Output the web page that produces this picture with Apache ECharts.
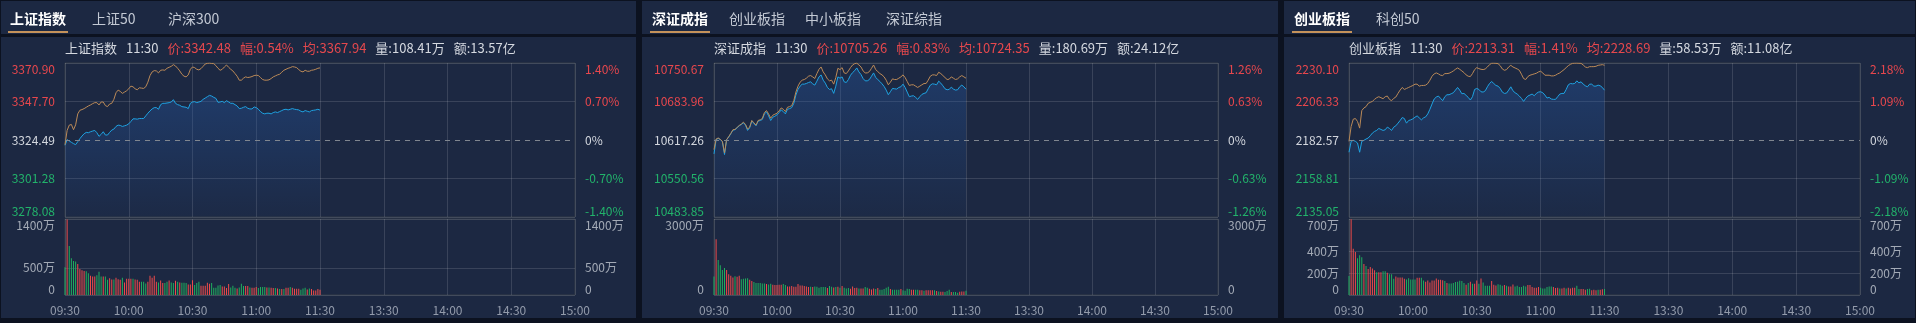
<!DOCTYPE html>
<html><head><meta charset="utf-8">
<script src="https://cdn.jsdelivr.net/npm/echarts@6/dist/echarts.min.js"></script>
<style>html,body{margin:0;padding:0;background:#0c1220;overflow:hidden}#c{width:1916px;height:323px}</style>
</head><body><div id="c"></div>
<script>
// ---------------- data ----------------
const shPriceTicks = [3278.08, 3301.28, 3324.49, 3347.70, 3370.90];
const shPctLabels = ['-1.40%', '-0.70%', '0%', '0.70%', '1.40%'];
const szPriceTicks = [10483.85, 10550.56, 10617.26, 10683.96, 10750.67];
const szPctLabels = ['-1.26%', '-0.63%', '0%', '0.63%', '1.26%'];
const cyPriceTicks = [2135.05, 2158.81, 2182.57, 2206.33, 2230.10];
const cyPctLabels = ['-2.18%', '-1.09%', '0%', '1.09%', '2.18%'];
const xTickLabels = ['09:30', '10:00', '10:30', '11:00', '11:30', '13:30', '14:00', '14:30', '15:00'];

const shPrice = [3321.30,3324.69,3323.89,3323.10,3322.30,3321.70,3323.49,3325.29,3326.88,3328.27,
3329.07,3328.87,3329.47,3329.87,3330.27,3328.87,3326.68,3327.88,3329.47,3327.48,
3327.48,3329.07,3330.47,3331.06,3332.66,3333.45,3333.25,3332.66,3333.06,3333.45,
3334.25,3335.65,3337.24,3337.24,3337.04,3337.44,3337.44,3337.44,3339.03,3340.63,
3342.02,3343.21,3344.01,3344.01,3343.02,3345.80,3346.60,3346.60,3346.80,3347.00,
3347.40,3348.79,3346.60,3345.80,3345.41,3344.61,3344.41,3344.21,3343.41,3346.60,
3347.40,3347.60,3347.00,3347.40,3347.80,3348.99,3349.79,3350.59,3351.38,3350.98,
3350.19,3349.59,3347.20,3347.40,3347.80,3347.00,3348.19,3347.40,3346.60,3346.60,
3345.80,3345.01,3343.41,3343.61,3344.21,3344.61,3343.61,3343.21,3343.21,3344.41,
3344.01,3343.02,3341.62,3340.63,3340.23,3340.63,3340.63,3340.23,3341.02,3341.42,
3341.02,3341.62,3342.22,3342.82,3343.02,3342.62,3343.02,3343.41,3343.02,3342.82,
3342.62,3341.82,3341.42,3342.22,3341.82,3341.42,3342.22,3342.42,3342.62,3343.02,
3342.48];
const shAvg = [3321.70,3330.27,3333.45,3333.85,3330.67,3333.65,3340.23,3342.42,3342.82,3343.41,
3344.21,3345.01,3345.61,3346.40,3347.00,3347.00,3345.61,3347.40,3347.40,3345.21,
3344.61,3346.20,3346.60,3348.99,3352.98,3354.57,3353.77,3352.58,3353.37,3354.17,
3355.37,3356.96,3356.56,3355.37,3354.77,3355.96,3355.76,3355.57,3356.56,3359.35,
3363.33,3365.53,3366.32,3366.12,3364.93,3366.52,3366.72,3366.52,3367.72,3368.31,
3368.91,3369.91,3369.11,3367.72,3366.12,3364.13,3362.94,3362.54,3363.73,3367.12,
3368.51,3368.11,3367.12,3366.72,3367.52,3368.91,3370.31,3370.70,3370.85,3370.60,
3370.51,3369.31,3367.72,3366.52,3367.12,3368.51,3369.71,3368.31,3367.12,3366.12,
3364.53,3362.94,3360.55,3360.55,3361.74,3362.54,3362.14,3362.34,3362.74,3363.33,
3363.53,3363.33,3362.14,3360.94,3360.55,3360.55,3360.74,3361.54,3362.54,3363.13,
3363.73,3364.13,3365.33,3366.52,3367.12,3367.72,3368.11,3368.71,3368.51,3368.11,
3366.92,3365.92,3365.53,3366.52,3365.92,3365.92,3366.52,3366.72,3367.12,3367.72,
3367.94];
const shVol = [511,1390,901,676,627,615,572,481,457,444,
438,402,353,341,341,365,426,341,341,341,
280,310,286,286,317,292,280,317,231,298,
298,298,298,286,280,243,243,243,213,243,
353,317,353,243,231,268,219,219,243,268,
231,219,261,243,231,225,225,219,195,195,
274,183,219,243,170,170,170,225,207,219,
134,134,177,183,158,158,128,201,140,170,
134,122,140,207,164,164,164,140,134,134,
146,128,146,146,146,140,140,134,128,128,
122,110,110,110,134,134,146,134,116,116,
116,97,122,134,103,122,110,85,85,110,
97];
const shVolUp = '0100001111' + '0011100010' + '0110111011' + '1101110001' + '1111011001' + '0010100011' +
  '1000111110' + '0000111100' + '0100011011' + '1000010110' + '1010110111' + '1000101111' + '1';

const szPrice = [10593.21,10617.84,10620.13,10617.84,10614.40,10592.07,10617.84,10622.42,10628.14,10634.44,
10635.01,10638.45,10641.89,10644.18,10647.04,10643.03,10633.87,10638.45,10650.47,10645.89,
10641.89,10649.90,10651.05,10652.76,10662.50,10665.93,10659.06,10651.05,10656.77,10658.49,
10660.78,10664.79,10669.37,10666.51,10662.50,10670.52,10671.66,10673.38,10680.82,10695.14,
10704.87,10710.60,10714.03,10714.03,10715.18,10716.90,10718.04,10714.61,10712.31,10719.19,
10726.63,10730.07,10720.90,10715.75,10708.31,10704.87,10706.02,10698.00,10710.60,10726.63,
10724.34,10726.63,10718.04,10716.90,10722.05,10729.49,10734.07,10737.51,10742.09,10735.22,
10730.64,10723.77,10719.76,10719.76,10722.05,10727.78,10733.50,10725.48,10722.05,10718.61,
10714.61,10710.02,10703.73,10695.71,10700.86,10706.59,10706.02,10705.44,10708.31,10709.45,
10714.03,10708.31,10700.29,10692.27,10693.42,10693.99,10691.13,10687.69,10692.27,10696.28,
10698.00,10699.15,10706.02,10712.31,10714.61,10714.03,10712.89,10719.19,10715.75,10711.17,
10706.02,10704.30,10704.87,10708.88,10705.44,10703.73,10704.30,10709.45,10712.31,10709.45,
10705.26];
const szAvg = [10600.66,10618.98,10620.70,10618.41,10614.97,10594.93,10617.84,10622.99,10628.72,10635.01,
10635.59,10639.02,10642.46,10644.75,10648.18,10644.18,10636.16,10639.59,10651.05,10647.04,
10643.03,10651.05,10652.19,10654.48,10664.79,10668.22,10662.50,10655.05,10660.21,10661.93,
10663.64,10667.65,10672.81,10670.52,10666.51,10673.95,10675.10,10676.81,10685.40,10700.29,
10710.60,10717.47,10720.90,10722.05,10724.34,10727.78,10728.92,10726.63,10723.77,10732.36,
10739.80,10743.81,10735.22,10730.07,10723.19,10719.76,10720.90,10714.03,10725.48,10741.52,
10739.23,10742.66,10733.50,10732.36,10736.94,10742.66,10747.24,10749.53,10750.40,10747.24,
10743.81,10736.94,10733.50,10733.50,10735.79,10741.52,10747.24,10739.23,10735.79,10732.36,
10730.07,10726.63,10720.90,10712.89,10717.47,10723.19,10722.05,10722.05,10724.34,10726.63,
10730.07,10725.48,10718.61,10711.74,10712.89,10712.89,10710.60,10708.31,10710.60,10712.89,
10715.18,10715.18,10720.90,10727.78,10730.07,10730.07,10728.92,10734.65,10732.36,10728.92,
10725.48,10722.05,10722.62,10726.63,10724.34,10722.05,10723.19,10726.63,10728.92,10726.63,
10724.35];
const szVol = [730,2204,1383,1174,991,1070,991,822,757,691,
743,717,757,626,639,652,665,600,548,509,
469,469,469,456,456,430,417,443,404,391,
391,404,404,430,391,339,339,352,326,326,
430,378,378,352,339,313,326,313,339,326,
287,313,313,313,274,352,326,300,313,326,
287,352,287,261,274,248,339,274,287,261,
261,261,313,287,248,222,261,235,274,209,
209,235,287,326,235,209,209,209,209,235,
183,170,248,235,209,209,209,209,183,183,
170,183,183,183,183,183,157,143,130,130,
117,157,209,117,117,117,91,130,143,143,
170];
const szVolUp = '0100001111' + '0110000110' + '0000010011' + '1110011111' + '1111110100' + '0000100101' +
  '0100011110' + '1100111010' + '0000100001' + '0000110011' + '0111101011' + '0001000111' + '0';

const cyPrice = [2175.02,2181.75,2182.36,2181.75,2180.73,2175.02,2181.75,2182.36,2183.18,2183.79,
2185.22,2186.85,2187.87,2188.48,2189.71,2189.09,2188.48,2188.89,2190.52,2189.71,
2188.48,2190.52,2191.34,2192.97,2194.60,2196.44,2195.83,2192.97,2194.60,2195.01,
2195.62,2196.64,2197.46,2196.23,2195.01,2196.23,2196.85,2198.68,2201.54,2204.80,
2207.86,2209.09,2209.70,2208.27,2206.84,2209.29,2210.51,2210.51,2211.13,2211.74,
2213.37,2215.00,2213.37,2211.13,2211.33,2210.11,2208.88,2207.25,2209.29,2213.78,
2214.39,2213.78,2212.35,2212.15,2212.96,2215.41,2217.45,2218.67,2217.45,2216.23,
2215.82,2214.39,2212.15,2211.33,2211.53,2213.37,2215.41,2212.96,2211.74,2210.92,
2209.70,2208.27,2206.43,2208.27,2209.70,2210.31,2210.92,2209.90,2211.33,2212.15,
2212.35,2211.74,2210.31,2208.47,2208.88,2207.86,2207.66,2207.66,2209.29,2210.92,
2211.33,2211.33,2213.78,2216.63,2217.45,2217.25,2217.45,2219.08,2217.86,2218.47,
2217.04,2216.02,2215.41,2217.04,2217.04,2215.82,2215.82,2216.43,2216.02,2215.00,
2213.31];
const cyAvg = [2181.75,2190.93,2195.42,2195.83,2193.99,2189.91,2200.72,2202.35,2203.17,2205.21,
2205.82,2206.43,2207.66,2208.68,2209.29,2208.68,2208.07,2209.29,2209.70,2207.66,
2206.84,2208.27,2209.09,2211.33,2213.37,2215.00,2213.78,2214.39,2215.00,2215.61,
2216.23,2217.04,2217.04,2215.82,2216.23,2216.23,2216.43,2217.45,2219.49,2221.94,
2223.37,2223.98,2223.37,2222.55,2222.35,2223.57,2223.57,2223.77,2224.39,2225.20,
2226.22,2227.04,2226.22,2225.20,2224.18,2222.75,2221.94,2221.73,2223.57,2226.02,
2227.24,2226.63,2226.22,2226.02,2226.43,2227.65,2229.08,2229.95,2230.00,2229.89,
2229.69,2228.47,2226.43,2225.61,2226.02,2227.65,2228.67,2227.65,2227.04,2226.43,
2225.61,2223.16,2220.51,2219.90,2221.73,2222.55,2222.96,2223.37,2223.77,2224.59,
2225.00,2223.98,2222.55,2222.55,2222.55,2222.14,2222.14,2222.55,2223.37,2223.98,
2225.00,2226.02,2227.24,2228.47,2229.28,2229.89,2230.00,2230.05,2229.95,2229.89,
2228.87,2227.65,2227.24,2227.85,2227.85,2227.85,2228.06,2228.67,2228.87,2229.08,
2228.69];
const cyVol = [176,698,426,396,338,365,347,286,268,240,
259,243,228,210,210,210,219,219,204,192,
192,149,170,161,161,161,149,143,155,143,
143,143,158,158,158,134,122,134,116,134,
134,152,140,140,137,128,110,107,107,110,
119,122,131,128,110,94,110,122,103,103,
134,103,152,116,85,85,85,128,94,88,
100,94,85,91,85,79,79,97,79,85,
73,73,85,79,91,91,73,67,67,73,
67,61,61,73,79,79,73,64,67,61,
61,67,61,67,61,67,67,85,55,55,
55,49,55,58,43,49,43,49,49,52,
55];
const cyVolUp = '0111000101' + '1110110010' + '0011111000' + '0011001111' + '1111101000' + '0000010101' +
  '1010000111' + '0001011100' + '0000111111' + '0000001110' + '1101111001' + '1100111011' + '0';

const shVolTicks = [0, 500, 1400];
const szVolTicks = [0, 3000];
const cyVolTicks = [0, 200, 400, 700];

const PANELS = [
  { tabs: ['上证指数', '上证50', '沪深300'], name: '上证指数', time: '11:30', ticks: shPriceTicks, pct: shPctLabels,
    price: shPrice, avg: shAvg, vol: shVol, volUp: shVolUp, volTicks: shVolTicks, infoVol: '108.41万', infoAmt: '13.57亿' },
  { tabs: ['深证成指', '创业板指', '中小板指', '深证综指'], name: '深证成指', time: '11:30', ticks: szPriceTicks, pct: szPctLabels,
    price: szPrice, avg: szAvg, vol: szVol, volUp: szVolUp, volTicks: szVolTicks, infoVol: '180.69万', infoAmt: '24.12亿' },
  { tabs: ['创业板指', '科创50'], name: '创业板指', time: '11:30', ticks: cyPriceTicks, pct: cyPctLabels,
    price: cyPrice, avg: cyAvg, vol: cyVol, volUp: cyVolUp, volTicks: cyVolTicks, infoVol: '58.53万', infoAmt: '11.08亿' }
];

// ---------------- layout / style ----------------
const LAYOUT = [
  { x0: 1, x1: 636, left: 65, width: 510, tabX: [10, 92, 168] },
  { x0: 642, x1: 1278, left: 714, width: 504, tabX: [652, 729, 805, 886] },
  { x0: 1284, x1: 1915, left: 1349, width: 511, tabX: [1294, 1376] }
];
const FF = "'Noto Sans CJK SC', sans-serif";
const RED = '#e8474d', GREEN = '#22b36b', NEUTRAL = '#d3d7de';
const BAR_RED = '#ee4a4a', BAR_GREEN = '#1fae5e';
const NAVY = '#1c2842', DARK = '#0c1220';
const SPLIT = 'rgba(255,255,255,0.13)', BORDER = '#333a47';
const PRICE_TOP = 63, PRICE_H = 154, VOL_TOP = 219, VOL_H = 76;

const times = [];
function hm(m) { const h = Math.floor(m / 60), mm = m % 60; return (h < 10 ? '0' : '') + h + ':' + (mm < 10 ? '0' : '') + mm; }
for (let m = 9 * 60 + 30; m <= 11 * 60 + 30; m++) times.push(hm(m));
for (let m = 13 * 60 + 1; m <= 15 * 60; m++) times.push(hm(m));

const grid = [], xAxis = [], yAxis = [], series = [], graphic = [];

PANELS.forEach((p, k) => {
  const L = LAYOUT[k];
  const pre = p.ticks[2];
  const pmin = p.ticks[0], pmax = p.ticks[4];
  const colorOf = v => { const n = Number(v); return n > pre + 1e-6 ? RED : (n < pre - 1e-6 ? GREEN : NEUTRAL); };
  const idxOf = v => { const n = Number(v); let bi = 0; p.ticks.forEach((t, i) => { if (Math.abs(t - n) < Math.abs(p.ticks[bi] - n)) bi = i; }); return bi; };

  graphic.push({ type: 'rect', z: -10, silent: true, shape: { x: L.x0, y: 1, width: L.x1 - L.x0, height: 317 }, style: { fill: NAVY } });
  graphic.push({ type: 'rect', z: -9, silent: true, shape: { x: L.x0, y: 34, width: L.x1 - L.x0, height: 3 }, style: { fill: DARK } });
  p.tabs.forEach((t, i) => {
    graphic.push({ type: 'text', z: 5, silent: true, x: L.tabX[i], y: 19,
      style: { text: t, fill: i === 0 ? '#ffffff' : '#c3c9d4', font: (i === 0 ? 'bold ' : '') + '14px ' + FF, verticalAlign: 'middle' } });
  });
  graphic.push({ type: 'rect', z: 5, silent: true, shape: { x: L.tabX[0] - 2, y: 31, width: 60, height: 2 }, style: { fill: '#c4925a' } });
  const last = p.price[p.price.length - 1], lastAvg = p.avg[p.avg.length - 1];
  const chg = ((last - pre) / pre * 100).toFixed(2);
  graphic.push({ type: 'text', z: 5, silent: true, x: L.left, y: 48,
    style: {
      text: '{n|' + p.name + '}{s| }{n|' + p.time + '}{s| }{r|价:' + last.toFixed(2) + '}{s| }{r|幅:' + chg + '%}{s| }{r|均:' + lastAvg.toFixed(2) +
        '}{s| }{n|量:' + p.infoVol + '}{s| }{n|额:' + p.infoAmt + '}',
      verticalAlign: 'middle',
      rich: {
        n: { fill: '#d5d9e0', fontSize: 13, fontFamily: FF },
        r: { fill: '#e5484d', fontSize: 13, fontFamily: FF },
        s: { width: 9, fontSize: 13, fontFamily: FF }
      }
    } });

  grid.push({ left: L.left, top: PRICE_TOP, width: L.width, height: PRICE_H, show: true, borderColor: BORDER, borderWidth: 1, backgroundColor: 'transparent' });
  grid.push({ left: L.left, top: VOL_TOP, width: L.width, height: VOL_H, show: true, borderColor: BORDER, borderWidth: 1, backgroundColor: 'transparent' });
  const gi = k * 2;
  const xBase = {
    type: 'category', data: times, boundaryGap: false,
    axisLine: { show: false }, axisTick: { show: false, interval: 29 },
    splitLine: { show: true, interval: 29, lineStyle: { color: SPLIT, width: 1 } }
  };
  xAxis.push(Object.assign({}, xBase, { gridIndex: gi, axisLabel: { show: false, interval: 29 } }));
  xAxis.push(Object.assign({}, xBase, { gridIndex: gi + 1,
    axisLabel: { show: true, interval: 29, color: '#939bab', fontSize: 12, fontFamily: FF, margin: 9 } }));

  const lblBase = { fontSize: 12, fontFamily: FF, margin: 10, verticalAlignMinLabel: 'bottom', verticalAlignMaxLabel: 'top' };
  yAxis.push({ gridIndex: gi, type: 'value', position: 'left', min: pmin, max: pmax, scale: true,
    axisLine: { show: false }, axisTick: { show: false, customValues: [p.ticks[0], p.ticks[1], p.ticks[3], p.ticks[4]] },
    splitLine: { show: true, lineStyle: { color: SPLIT, width: 1 } },
    axisLabel: Object.assign({}, lblBase, { customValues: p.ticks, formatter: v => p.ticks[idxOf(v)].toFixed(2), color: colorOf }) });
  yAxis.push({ gridIndex: gi, type: 'value', position: 'right', min: pmin, max: pmax, scale: true,
    axisLine: { show: false }, axisTick: { show: false, customValues: p.ticks }, splitLine: { show: false },
    axisLabel: Object.assign({}, lblBase, { customValues: p.ticks, formatter: v => p.pct[idxOf(v)], color: colorOf }) });
  const vmax = p.volTicks[p.volTicks.length - 1];
  const volFmt = v => Number(v) === 0 ? '0' : (Number(v) + '万');
  yAxis.push({ gridIndex: gi + 1, type: 'value', position: 'left', min: 0, max: vmax,
    axisLine: { show: false }, axisTick: { show: false, customValues: p.volTicks },
    splitLine: { show: true, lineStyle: { color: SPLIT, width: 1 } },
    axisLabel: Object.assign({}, lblBase, { customValues: p.volTicks, formatter: volFmt, color: '#a3aab6' }) });
  yAxis.push({ gridIndex: gi + 1, type: 'value', position: 'right', min: 0, max: vmax,
    axisLine: { show: false }, axisTick: { show: false, customValues: p.volTicks }, splitLine: { show: false },
    axisLabel: Object.assign({}, lblBase, { customValues: p.volTicks, formatter: volFmt, color: '#a3aab6' }) });

  const yi = k * 4;
  series.push({ type: 'line', xAxisIndex: gi, yAxisIndex: yi, data: p.price, showSymbol: false, symbol: 'none',
    lineStyle: { color: '#1ea2e2', width: 1 }, z: 3,
    areaStyle: { origin: 'start', color: new echarts.graphic.LinearGradient(0, 0, 0, 1, [
      { offset: 0, color: 'rgba(38,92,172,0.5)' }, { offset: 1, color: 'rgba(38,92,172,0.05)' }]) },
    markLine: { silent: true, symbol: ['none', 'none'], label: { show: false },
      lineStyle: { color: '#80868f', type: [5, 5], width: 1 }, data: [{ yAxis: pre }] } });
  series.push({ type: 'line', xAxisIndex: gi, yAxisIndex: yi, data: p.avg, showSymbol: false, symbol: 'none',
    lineStyle: { color: '#bb8a58', width: 1 }, z: 4 });
  series.push({ type: 'bar', xAxisIndex: gi + 1, yAxisIndex: yi + 2, barWidth: '45%',
    data: p.vol.map((v, i) => ({ value: v, itemStyle: { color: p.volUp[i] === '1' ? BAR_RED : BAR_GREEN } })) });
});

const chart = echarts.init(document.getElementById('c'), null, { renderer: 'canvas' });
chart.setOption({ animation: false, backgroundColor: 'transparent', textStyle: { fontFamily: FF },
  grid, xAxis, yAxis, series, graphic });
</script></body></html>
